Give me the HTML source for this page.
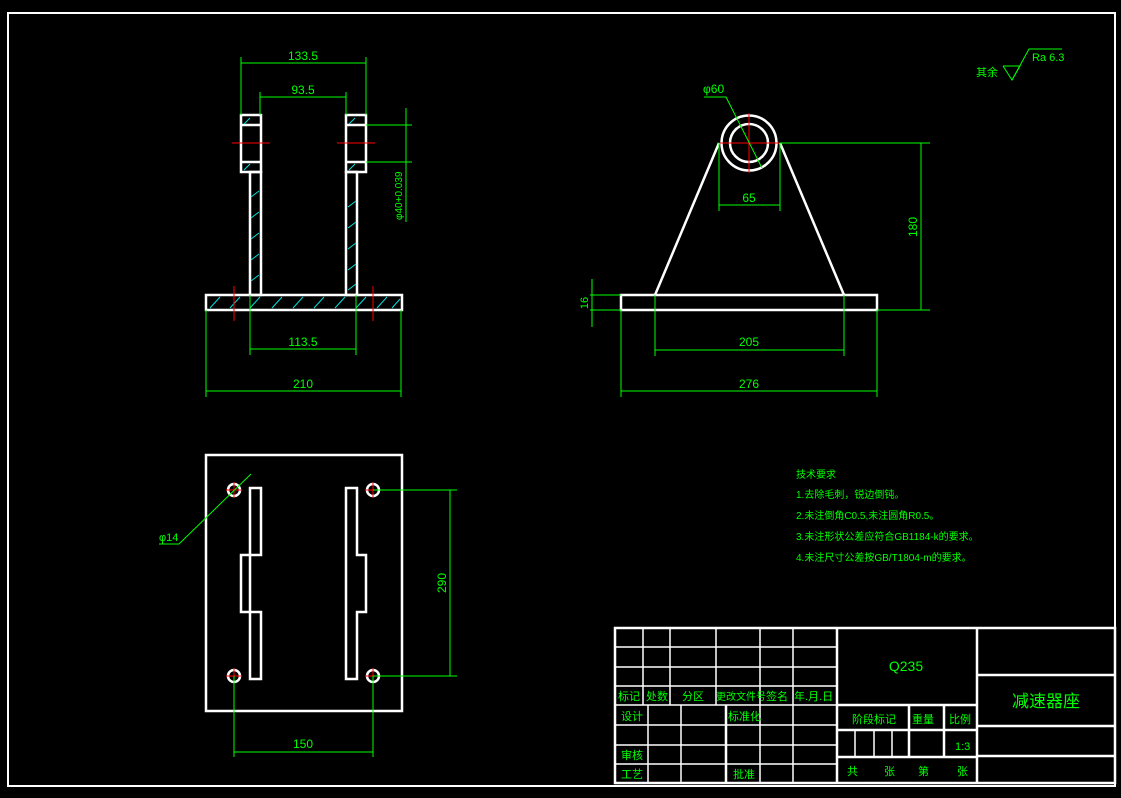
<!DOCTYPE html>
<html><head><meta charset="utf-8"><style>
html,body{margin:0;padding:0;background:#000;}
svg{display:block}
text{font-family:"Liberation Sans","WenQuanYi Zen Hei",sans-serif;fill:#00ff00;}
</style></head><body>
<svg width="1121" height="798" viewBox="0 0 1121 798" xmlns="http://www.w3.org/2000/svg">
<rect x="0" y="0" width="1121" height="798" fill="#000"/>
<rect x="8" y="13" width="1107" height="773" fill="none" stroke="#fff" stroke-width="2"/>

<!-- FRONT VIEW -->
<g fill="none" stroke="#fff" stroke-width="2.5">
<rect x="241" y="115" width="20" height="57"/>
<line x1="241" y1="125" x2="261" y2="125"/><line x1="241" y1="162" x2="261" y2="162"/>
<rect x="250" y="172" width="11" height="123"/>
<rect x="346" y="115" width="20" height="57"/>
<line x1="346" y1="125" x2="366" y2="125"/><line x1="346" y1="162" x2="366" y2="162"/>
<rect x="346" y="172" width="11" height="123"/>
<rect x="206" y="295" width="196" height="15"/>
</g>
<g stroke="#00e0e0" stroke-width="1">
<path d="M244 124l6-6M244 170l6-6M251 197l8-6M251 218l8-6M251 239l8-6M251 260l8-6M251 281l8-6M349 124l6-6M349 170l6-6M348 207l8-6M348 228l8-6M348 249l8-6M348 270l8-6M348 290l8-6M210 308l10-11M230 308l10-11M250 308l10-11M272 308l10-11M293 308l10-11M314 308l10-11M335 308l10-11M356 308l10-11M377 308l10-11M392 308l8-9"/>
</g>
<g stroke="#ff0000" stroke-width="1">
<line x1="232" y1="143" x2="270" y2="143"/><line x1="337" y1="143" x2="375" y2="143"/>
<line x1="234" y1="286" x2="234" y2="321"/><line x1="373" y1="286" x2="373" y2="321"/>
</g>
<g stroke="#00ff00" stroke-width="1" fill="none">
<line x1="241" y1="57" x2="241" y2="115"/><line x1="366" y1="57" x2="366" y2="115"/><line x1="241" y1="63" x2="366" y2="63"/>
<line x1="260" y1="92" x2="260" y2="115"/><line x1="346" y1="92" x2="346" y2="115"/><line x1="260" y1="97" x2="346" y2="97"/>
<line x1="366" y1="125" x2="412" y2="125"/><line x1="366" y1="162" x2="412" y2="162"/><line x1="406" y1="108" x2="406" y2="222"/>
<line x1="250" y1="295" x2="250" y2="355"/><line x1="356" y1="295" x2="356" y2="355"/><line x1="250" y1="349" x2="356" y2="349"/>
<line x1="206" y1="310" x2="206" y2="397"/><line x1="401" y1="310" x2="401" y2="397"/><line x1="206" y1="391" x2="401" y2="391"/>
</g>
<text x="303" y="60" font-size="12" text-anchor="middle">133.5</text>
<text x="303" y="94" font-size="12" text-anchor="middle">93.5</text>
<text x="303" y="346" font-size="12" text-anchor="middle">113.5</text>
<text x="303" y="388" font-size="12" text-anchor="middle">210</text>
<text x="402" y="220" font-size="10" transform="rotate(-90 402 220)">φ40+0.039</text>

<!-- SIDE VIEW -->
<g fill="none" stroke="#fff" stroke-width="2.5">
<rect x="621" y="295" width="256" height="15"/>
<line x1="655" y1="295" x2="719" y2="143"/><line x1="844" y1="295" x2="780" y2="143"/>
<circle cx="749" cy="143" r="27.5"/><circle cx="749" cy="143" r="19"/>
</g>
<g stroke="#ff0000" stroke-width="1"><line x1="719" y1="143" x2="780" y2="143"/><line x1="749" y1="113" x2="749" y2="173"/></g>
<g stroke="#00ff00" stroke-width="1" fill="none">
<polyline points="704,97 726,97 762,168"/>
<line x1="719" y1="143" x2="719" y2="211"/><line x1="780" y1="143" x2="780" y2="211"/><line x1="719" y1="205" x2="780" y2="205"/>
<line x1="780" y1="143" x2="930" y2="143"/><line x1="877" y1="310" x2="930" y2="310"/><line x1="921" y1="143" x2="921" y2="310"/>
<line x1="590" y1="295" x2="621" y2="295"/><line x1="590" y1="310" x2="621" y2="310"/><line x1="592" y1="279" x2="592" y2="327"/>
<line x1="655" y1="295" x2="655" y2="356"/><line x1="844" y1="295" x2="844" y2="356"/><line x1="655" y1="350" x2="844" y2="350"/>
<line x1="621" y1="310" x2="621" y2="397"/><line x1="877" y1="310" x2="877" y2="397"/><line x1="621" y1="391" x2="877" y2="391"/>
</g>
<text x="703" y="93" font-size="12">φ60</text>
<text x="749" y="202" font-size="12" text-anchor="middle">65</text>
<text x="917" y="227" font-size="12" transform="rotate(-90 917 227)" text-anchor="middle">180</text>
<text x="588" y="303" font-size="11" transform="rotate(-90 588 303)" text-anchor="middle">16</text>
<text x="749" y="346" font-size="12" text-anchor="middle">205</text>
<text x="749" y="388" font-size="12" text-anchor="middle">276</text>

<!-- roughness -->
<text x="976" y="76" font-size="11">其余</text>
<g stroke="#00ff00" stroke-width="1" fill="none"><polyline points="1003,66 1020,66 1012,80 1003,66"/><polyline points="1012,80 1029,49 1062,49"/></g>
<text x="1032" y="61" font-size="11">Ra 6.3</text>

<!-- TOP VIEW -->
<g fill="none" stroke="#fff" stroke-width="2.5">
<rect x="206" y="455" width="196" height="256"/>
<path d="M250 488h11v67h-20v57h20v67h-11z"/>
<path d="M346 488h11v67h9v57h-9v67h-11z"/>
<circle cx="234" cy="490" r="6"/><circle cx="373" cy="490" r="6"/><circle cx="234" cy="676" r="6"/><circle cx="373" cy="676" r="6"/>
</g>
<g stroke="#ff0000" stroke-width="1">
<path d="M226 490h16M234 482v16M365 490h16M373 482v16M226 676h16M234 668v16M365 676h16M373 668v16"/>
</g>
<g stroke="#00ff00" stroke-width="1" fill="none">
<polyline points="159,544 179,544 251,474"/>
<line x1="373" y1="490" x2="457" y2="490"/><line x1="373" y1="676" x2="457" y2="676"/><line x1="450" y1="490" x2="450" y2="676"/>
<line x1="234" y1="676" x2="234" y2="757"/><line x1="373" y1="676" x2="373" y2="757"/><line x1="234" y1="752" x2="373" y2="752"/>
</g>
<text x="159" y="541" font-size="11">φ14</text>
<text x="446" y="583" font-size="12" transform="rotate(-90 446 583)" text-anchor="middle">290</text>
<text x="303" y="748" font-size="12" text-anchor="middle">150</text>

<!-- tech req -->
<g font-size="10">
<text x="796" y="478">技术要求</text>
<text x="796" y="498">1.去除毛刺，锐边倒钝。</text>
<text x="796" y="519">2.未注倒角C0.5,未注圆角R0.5。</text>
<text x="796" y="540">3.未注形状公差应符合GB1184-k的要求。</text>
<text x="796" y="561">4.未注尺寸公差按GB/T1804-m的要求。</text>
</g>

<!-- TITLE BLOCK -->
<g fill="none" stroke="#fff" stroke-width="1.5">
<rect x="615" y="628" width="500" height="155" stroke-width="2.5"/>
<line x1="837" y1="628" x2="837" y2="783" stroke-width="2.5"/>
<line x1="977" y1="628" x2="977" y2="783" stroke-width="2.5"/>
<path d="M615 647h222M615 667h222M615 686h222M615 705h222"/>
<path d="M643 628v77M670 628v77M716 628v77M760 628v77M793 628v77"/>
<path d="M615 725h222M615 745h222M615 764h222"/>
<path d="M648 705v78M681 705v78M760 705v78M793 705v78"/>
<line x1="726" y1="705" x2="726" y2="783" stroke-width="2.5"/>
<path d="M837 705h140M837 730h140M837 757h140" stroke-width="2.5"/>
<path d="M909 705v52M944 705v52" stroke-width="2.5"/>
<path d="M855 730v27M874 730v27M892 730v27"/>
<path d="M977 675h138M977 726h138M977 756h138" stroke-width="2.5"/>
</g>
<g font-size="11">
<text x="618" y="700">标记</text><text x="646" y="700">处数</text><text x="682" y="700">分区</text>
<text x="716" y="700" font-size="10">更改文件号</text><text x="766" y="700">签名</text><text x="794" y="700">年.月.日</text>
<text x="621" y="720">设计</text><text x="728" y="720">标准化</text>
<text x="621" y="759">审核</text><text x="621" y="778">工艺</text><text x="733" y="778">批准</text>
<text x="852" y="723">阶段标记</text><text x="912" y="723">重量</text><text x="949" y="723">比例</text>
<text x="955" y="750">1:3</text>
<text x="847" y="775">共</text><text x="884" y="775">张</text><text x="918" y="775">第</text><text x="957" y="775">张</text>
</g>
<text x="906" y="671" font-size="14" text-anchor="middle">Q235</text>
<text x="1046" y="707" font-size="17" text-anchor="middle">减速器座</text>
</svg>
</body></html>
